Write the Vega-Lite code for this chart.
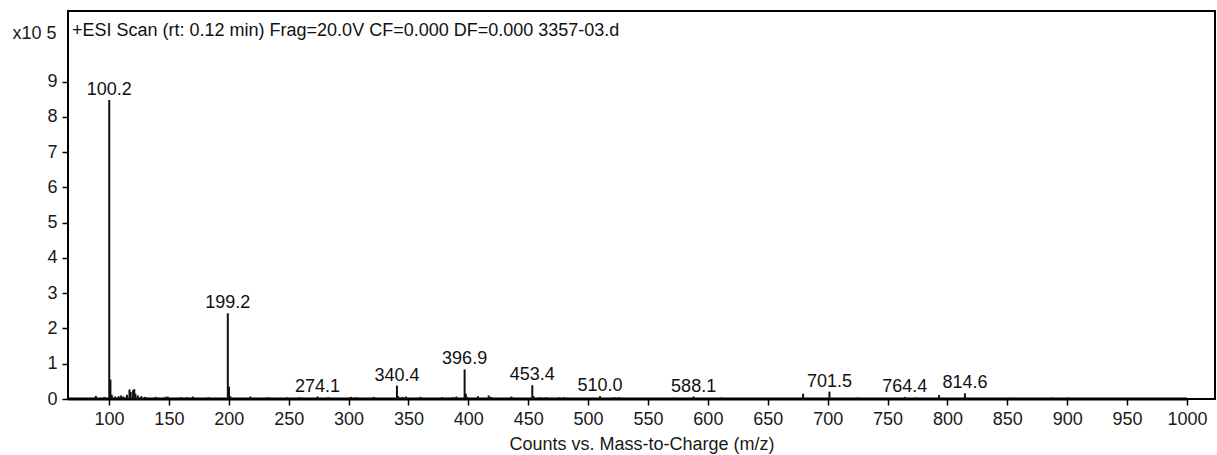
{
  "$schema": "https://vega.github.io/schema/vega-lite/v6.json",
  "width": 1147,
  "height": 388,
  "autosize": {"type": "none"},
  "padding": {"left": 68, "top": 11, "right": 2, "bottom": 56},
  "background": "white",
  "config": {
    "font": "Liberation Sans",
    "view": {"stroke": "#000", "strokeWidth": 2}
  },
  "datasets": {
    "header": [{"mz": 65.77, "intensity": 10.3, "note": "+ESI Scan (rt: 0.12 min) Frag=20.0V CF=0.000 DF=0.000 3357-03.d"}],
    "baseline": [{"start": 66, "end": 1000, "level": 0}],
    "peaks": [
      {"mz": 89.0, "intensity": 0.09},
      {"mz": 96.2, "intensity": 0.06},
      {"mz": 100.2, "intensity": 8.48},
      {"mz": 101.2, "intensity": 0.55},
      {"mz": 102.3, "intensity": 0.12},
      {"mz": 105.1, "intensity": 0.07},
      {"mz": 108.0, "intensity": 0.08},
      {"mz": 110.1, "intensity": 0.1},
      {"mz": 112.0, "intensity": 0.07},
      {"mz": 115.0, "intensity": 0.12},
      {"mz": 117.1, "intensity": 0.27},
      {"mz": 118.1, "intensity": 0.2},
      {"mz": 120.1, "intensity": 0.25},
      {"mz": 121.1, "intensity": 0.28},
      {"mz": 122.1, "intensity": 0.15},
      {"mz": 124.1, "intensity": 0.1},
      {"mz": 127.0, "intensity": 0.08},
      {"mz": 130.1, "intensity": 0.06},
      {"mz": 139.0, "intensity": 0.06},
      {"mz": 147.0, "intensity": 0.06},
      {"mz": 149.0, "intensity": 0.07},
      {"mz": 160.0, "intensity": 0.05},
      {"mz": 165.0, "intensity": 0.05},
      {"mz": 170.0, "intensity": 0.07},
      {"mz": 183.0, "intensity": 0.05},
      {"mz": 199.2, "intensity": 2.43},
      {"mz": 200.2, "intensity": 0.35},
      {"mz": 201.2, "intensity": 0.08},
      {"mz": 218.0, "intensity": 0.07},
      {"mz": 233.0, "intensity": 0.05},
      {"mz": 249.0, "intensity": 0.05},
      {"mz": 259.0, "intensity": 0.05},
      {"mz": 274.1, "intensity": 0.07},
      {"mz": 283.0, "intensity": 0.05},
      {"mz": 302.0, "intensity": 0.06},
      {"mz": 306.0, "intensity": 0.05},
      {"mz": 321.0, "intensity": 0.06},
      {"mz": 340.4, "intensity": 0.38},
      {"mz": 341.4, "intensity": 0.08},
      {"mz": 345.0, "intensity": 0.06},
      {"mz": 348.0, "intensity": 0.07},
      {"mz": 360.0, "intensity": 0.06},
      {"mz": 378.0, "intensity": 0.05},
      {"mz": 387.0, "intensity": 0.05},
      {"mz": 390.0, "intensity": 0.07},
      {"mz": 396.9, "intensity": 0.84},
      {"mz": 397.9, "intensity": 0.15},
      {"mz": 399.0, "intensity": 0.06},
      {"mz": 408.0, "intensity": 0.08},
      {"mz": 417.0, "intensity": 0.1},
      {"mz": 419.0, "intensity": 0.06},
      {"mz": 436.0, "intensity": 0.07},
      {"mz": 453.4, "intensity": 0.39},
      {"mz": 454.4, "intensity": 0.08},
      {"mz": 460.0, "intensity": 0.05},
      {"mz": 465.0, "intensity": 0.05},
      {"mz": 476.0, "intensity": 0.05},
      {"mz": 480.0, "intensity": 0.05},
      {"mz": 510.0, "intensity": 0.08},
      {"mz": 522.0, "intensity": 0.05},
      {"mz": 526.0, "intensity": 0.05},
      {"mz": 572.0, "intensity": 0.04},
      {"mz": 588.1, "intensity": 0.07},
      {"mz": 611.0, "intensity": 0.04},
      {"mz": 679.5, "intensity": 0.15},
      {"mz": 701.5, "intensity": 0.21},
      {"mz": 725.0, "intensity": 0.04},
      {"mz": 764.4, "intensity": 0.06},
      {"mz": 774.0, "intensity": 0.04},
      {"mz": 793.0, "intensity": 0.11},
      {"mz": 814.6, "intensity": 0.16},
      {"mz": 855.0, "intensity": 0.04},
      {"mz": 888.0, "intensity": 0.04},
      {"mz": 900.0, "intensity": 0.04}
    ],
    "labels": [
      {"mz": 100.2, "intensity": 8.48},
      {"mz": 199.2, "intensity": 2.43},
      {"mz": 274.1, "intensity": 0.07},
      {"mz": 340.4, "intensity": 0.38},
      {"mz": 396.9, "intensity": 0.84},
      {"mz": 453.4, "intensity": 0.39},
      {"mz": 510.0, "intensity": 0.08},
      {"mz": 588.1, "intensity": 0.07},
      {"mz": 701.5, "intensity": 0.21},
      {"mz": 764.4, "intensity": 0.06},
      {"mz": 814.6, "intensity": 0.16}
    ]
  },
  "encoding": {
    "x": {
      "type": "quantitative",
      "scale": {"domain": [65.77, 1023.4], "nice": false, "zero": false},
      "axis": {
        "title": "Counts vs. Mass-to-Charge (m/z)",
        "values": [100, 150, 200, 250, 300, 350, 400, 450, 500, 550, 600, 650, 700, 750, 800, 850, 900, 950, 1000],
        "format": "d",
        "grid": false,
        "domain": false,
        "ticks": true,
        "tickSize": 6,
        "tickWidth": 1.5,
        "tickColor": "#000",
        "labelFontSize": 18,
        "labelColor": "#1a1a1a",
        "labelPadding": 5,
        "titleFontSize": 18,
        "titleFontWeight": "normal",
        "titleColor": "#1a1a1a",
        "titleBaseline": "alphabetic",
        "titleY": 50
      }
    },
    "y": {
      "type": "quantitative",
      "scale": {"domain": [0, 11.0], "nice": false, "zero": false},
      "axis": {
        "title": "x10 5",
        "titleAngle": 0,
        "titleAlign": "right",
        "titleBaseline": "middle",
        "titleX": -12,
        "titleY": 22,
        "titleFontSize": 18,
        "titleFontWeight": "normal",
        "titleColor": "#1a1a1a",
        "values": [0, 1, 2, 3, 4, 5, 6, 7, 8, 9],
        "grid": false,
        "domain": false,
        "tickSize": 6,
        "tickWidth": 1.5,
        "tickColor": "#000",
        "labelFontSize": 18,
        "labelColor": "#1a1a1a",
        "labelPadding": 5
      }
    }
  },
  "layer": [
    {
      "data": {"name": "baseline"},
      "mark": {"type": "rule", "strokeWidth": 3, "color": "#000"},
      "encoding": {
        "x": {"field": "start", "type": "quantitative"},
        "x2": {"field": "end"},
        "y": {"field": "level", "type": "quantitative"}
      }
    },
    {
      "data": {"name": "peaks"},
      "mark": {"type": "rule", "strokeWidth": 2, "color": "#111"},
      "encoding": {
        "x": {"field": "mz", "type": "quantitative"},
        "y": {"field": "intensity", "type": "quantitative"},
        "y2": {"datum": 0}
      }
    },
    {
      "data": {"name": "labels"},
      "mark": {"type": "text", "baseline": "alphabetic", "align": "center", "dy": -5, "fontSize": 18, "color": "#111"},
      "encoding": {
        "x": {"field": "mz", "type": "quantitative"},
        "y": {"field": "intensity", "type": "quantitative"},
        "text": {"field": "mz", "type": "quantitative", "format": ".1f"}
      }
    },
    {
      "data": {"name": "header"},
      "mark": {"type": "text", "baseline": "alphabetic", "align": "left", "dx": 4, "fontSize": 18, "color": "#111"},
      "encoding": {
        "x": {"field": "mz", "type": "quantitative"},
        "y": {"field": "intensity", "type": "quantitative"},
        "text": {"field": "note"}
      }
    }
  ]
}
